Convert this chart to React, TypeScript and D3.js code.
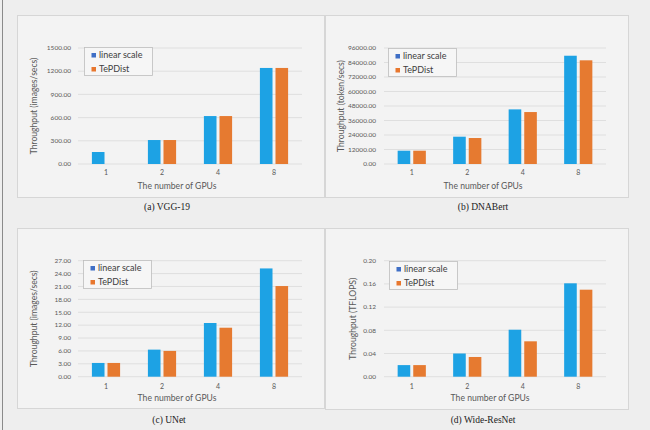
import React from "react";
import * as d3 from "d3";

const gpus = ["1", "2", "4", "8"];
const seriesNames = ["linear scale", "TePDist"];

const vggLinear = [155, 310, 620, 1242];
const vggTePDist = [null, 310, 620, 1242];
const vggTicks = [0, 300, 600, 900, 1200, 1500];

const dnaLinear = [11000, 22600, 45200, 89600];
const dnaTePDist = [11000, 21500, 43000, 85800];
const dnaTicks = [0, 12000, 24000, 36000, 48000, 60000, 72000, 84000, 96000];

const unetLinear = [3.2, 6.3, 12.5, 25.2];
const unetTePDist = [3.2, 6.0, 11.4, 21.1];
const unetTicks = [0, 3, 6, 9, 12, 15, 18, 21, 24, 27];

const wrnLinear = [0.02, 0.04, 0.081, 0.161];
const wrnTePDist = [0.02, 0.034, 0.061, 0.15];
const wrnTicks = [0, 0.04, 0.08, 0.12, 0.16, 0.2];

const panels = [
  { caption: "(a) VGG-19", yTitle: "Throughput (images/secs)", linear: vggLinear, tep: vggTePDist, ticks: vggTicks, fmt: ".2f",
    frame: [17, 15, 307, 182], plot: [78, 302, 48, 164], labelX: 71, yTitleX: 34, xTitleX: 177, xTitleY: 189, xTickY: 175, capX: 167, capY: 210, legend: [84, 47] },
  { caption: "(b) DNABert", yTitle: "Throughput (token/secs)", linear: dnaLinear, tep: dnaTePDist, ticks: dnaTicks, fmt: ".2f",
    frame: [325, 15, 303, 182], plot: [384, 606, 48, 164], labelX: 376, yTitleX: 341, xTitleX: 483, xTitleY: 189, xTickY: 175, capX: 483, capY: 210, legend: [388, 48] },
  { caption: "(c) UNet", yTitle: "Throughput (images/secs)", linear: unetLinear, tep: unetTePDist, ticks: unetTicks, fmt: ".2f",
    frame: [17, 228, 307, 180], plot: [78, 302, 260.7, 376.7], labelX: 71, yTitleX: 34, xTitleX: 177, xTitleY: 401, xTickY: 389, capX: 169, capY: 423, legend: [83, 260] },
  { caption: "(d) Wide-ResNet", yTitle: "Throughput (TFLOPS)", linear: wrnLinear, tep: wrnTePDist, ticks: wrnTicks, fmt: ".2f",
    frame: [325, 228, 303, 181], plot: [384, 606, 260.7, 376.7], labelX: 376, yTitleX: 353, xTitleX: 490, xTitleY: 401, xTickY: 389, capX: 483, capY: 423, legend: [389, 261] },
];

const BAR_BLUE = "#1da2e4";
const BAR_ORANGE = "#e67a30";
const LEG_BLUE = "#3f6fc6";
const LEG_ORANGE = "#e8772e";
const FONT = "Lato, 'Open Sans', sans-serif";

function Panel({ p }: { p: any }) {
  const [x0, x1, yTop, yBot] = p.plot;
  const x = d3.scaleBand().domain(gpus).range([x0, x1]).paddingInner(0).paddingOuter(0);
  const inner = d3.scaleBand().domain(seriesNames).range([-14.1, 14.1]).paddingInner(0.192).paddingOuter(0);
  const maxT = p.ticks[p.ticks.length - 1];
  const y = d3.scaleLinear().domain([0, maxT]).range([yBot, yTop]);
  const fmt = d3.format(p.fmt);
  const series = [p.linear, p.tep];
  const colors = [BAR_BLUE, BAR_ORANGE];
  const [fx, fy, fw, fh] = p.frame;
  const [lx, ly] = p.legend;
  return (
    <g>
      <rect x={fx + 0.5} y={fy + 0.5} width={fw} height={fh} fill="#f3f3f3" stroke="#d6d6d6" strokeWidth={1} />
      {p.ticks.map((t: number) => (
        <g key={t}>
          <line x1={x0} x2={x1} y1={y(t)} y2={y(t)} stroke="#d9d9d9" strokeWidth={0.8} />
          <text x={p.labelX} y={y(t)} dy="0.35em" textAnchor="end" fontSize={6.5} fill="#595959" fontFamily={FONT}>{fmt(t)}</text>
        </g>
      ))}
      {series.map((vals: (number | null)[], si: number) =>
        vals.map((v, i) =>
          v == null ? null : (
            <rect key={si + "-" + i}
              x={(x(gpus[i]) as number) + x.bandwidth() / 2 + (inner(seriesNames[si]) as number)}
              y={y(v)} width={inner.bandwidth()} height={y(0) - y(v)} fill={colors[si]} />
          )
        )
      )}
      {gpus.map((g) => (
        <text key={g} x={(x(g) as number) + x.bandwidth() / 2} y={p.xTickY} textAnchor="middle" fontSize={7} fill="#595959" fontFamily={FONT}>{g}</text>
      ))}
      <text x={p.xTitleX} y={p.xTitleY} textAnchor="middle" fontSize={8.6} fill="#595959" fontFamily={FONT}>The number of GPUs</text>
      <text transform={`translate(${p.yTitleX},${(yTop + yBot) / 2}) rotate(-90)`} textAnchor="middle" dy="0.35em" fontSize={8.6} fill="#595959" fontFamily={FONT}>{p.yTitle}</text>
      <rect x={lx + 0.5} y={ly + 0.5} width={68} height={28} fill="#f6f6f6" stroke="#bdbdbd" strokeWidth={0.8} />
      {seriesNames.map((s, i) => (
        <g key={s}>
          <rect x={lx + 7.5} y={ly + 6 + i * 14} width={4.5} height={4.5} fill={i === 0 ? LEG_BLUE : LEG_ORANGE} />
          <text x={lx + 15} y={ly + 8.3 + i * 14} dy="0.35em" fontSize={9} fill="#404040" fontFamily={FONT}>{s}</text>
        </g>
      ))}
      <text x={p.capX} y={p.capY} textAnchor="middle" fontSize={9.5} fill="#222" fontFamily="'Liberation Serif', 'DejaVu Serif', serif">{p.caption}</text>
    </g>
  );
}

export default function App() {
  return (
    <svg width={650} height={430} style={{ position: "absolute", left: 0, top: 0 }}>
      <rect x={0} y={0} width={650} height={430} fill="#eeeeee" />
      <line x1={2.5} x2={2.5} y1={0} y2={430} stroke="#8a8a8a" strokeWidth={1} />
      {panels.map((p) => (
        <Panel key={p.caption} p={p} />
      ))}
    </svg>
  );
}
